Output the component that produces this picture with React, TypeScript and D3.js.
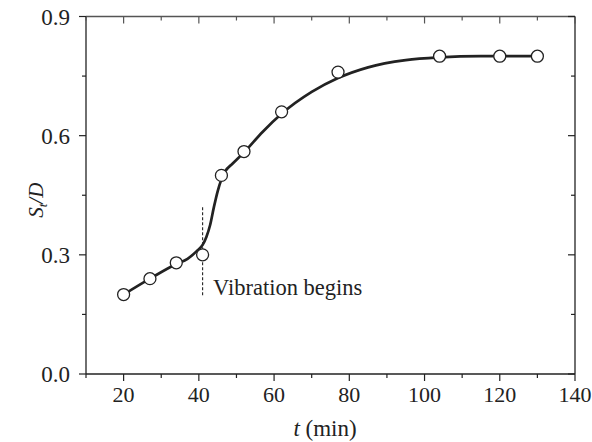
import React from "react";
import * as d3 from "d3";

const tData = [20, 27, 34, 41, 46, 52, 62, 77, 104, 120, 130];
const sData = [0.2, 0.24, 0.28, 0.3, 0.5, 0.56, 0.66, 0.76, 0.8, 0.8, 0.8];

const fitT = [20, 27, 34, 37, 39.5, 41, 42, 43, 44, 45, 46, 47, 49, 52, 57, 62, 70, 77, 85, 95, 104, 115, 130];
const fitS = [0.2, 0.24, 0.277, 0.29, 0.31, 0.325, 0.345, 0.375, 0.42, 0.46, 0.49, 0.51, 0.53, 0.558, 0.61, 0.655, 0.71, 0.745, 0.772, 0.79, 0.797, 0.8, 0.8];

const xMajor = [20, 40, 60, 80, 100, 120, 140];
const xMinor = [10, 30, 50, 70, 90, 110, 130];
const yMajor = [0, 0.3, 0.6, 0.9];
const yMinor = [0.15, 0.45, 0.75];

const vibT = 41;
const vibRange = [0.195, 0.42];

const W = 592, H = 442;
const L = 86, R = 575, T = 16.5, B = 374;

export default function App() {
  const x = d3.scaleLinear().domain([10, 140]).range([L, R]);
  const y = d3.scaleLinear().domain([0, 0.9]).range([B, T]);
  const line = d3
    .line<number>()
    .x((_, i) => x(fitT[i]))
    .y((d) => y(d))
    .curve(d3.curveMonotoneX);
  const ink = "#222";
  const font = "'Liberation Serif', 'Times New Roman', serif";
  return (
    <svg width={W} height={H} style={{ position: "absolute", left: 0, top: 0 }} fontFamily={font}>
      <rect x={0} y={0} width={W} height={H} fill="#fff" />
      {/* frame */}
      <line x1={L} x2={R} y1={T} y2={T} stroke="#555" strokeWidth={1.3} />
      <line x1={R} x2={R} y1={T} y2={B} stroke={ink} strokeWidth={1.3} />
      <line x1={L} x2={R} y1={B} y2={B} stroke={ink} strokeWidth={1.3} />
      <line x1={L} x2={L} y1={T} y2={B} stroke={ink} strokeWidth={1.3} />
      {xMajor.map((v) => (
        <g key={"xm" + v}>
          <line x1={x(v)} x2={x(v)} y1={B} y2={B + 7} stroke={ink} strokeWidth={1.2} />
          <line x1={x(v)} x2={x(v)} y1={T} y2={T + 7} stroke="#555" strokeWidth={1.2} />
          <text x={x(v)} y={B + 28} textAnchor="middle" fontSize={22} fill={ink}>
            {v}
          </text>
        </g>
      ))}
      {xMinor.map((v) => (
        <g key={"xn" + v}>
          <line x1={x(v)} x2={x(v)} y1={B} y2={B + 4} stroke={ink} strokeWidth={1.2} />
          <line x1={x(v)} x2={x(v)} y1={T} y2={T + 4} stroke="#555" strokeWidth={1.2} />
        </g>
      ))}
      {yMajor.map((v) => (
        <g key={"ym" + v}>
          <line x1={L - 7} x2={L} y1={y(v)} y2={y(v)} stroke={ink} strokeWidth={1.2} />
          <line x1={R - 7} x2={R} y1={y(v)} y2={y(v)} stroke={ink} strokeWidth={1.2} />
          <text x={L - 16} y={y(v)} dy="0.35em" textAnchor="end" fontSize={23} fill={ink}>
            {v.toFixed(1)}
          </text>
        </g>
      ))}
      {yMinor.map((v) => (
        <g key={"yn" + v}>
          <line x1={L - 4} x2={L} y1={y(v)} y2={y(v)} stroke={ink} strokeWidth={1.2} />
          <line x1={R - 4} x2={R} y1={y(v)} y2={y(v)} stroke={ink} strokeWidth={1.2} />
        </g>
      ))}
      {/* axis titles */}
      <text x={325} y={436} textAnchor="middle" fontSize={23} fill={ink}>
        <tspan fontStyle="italic">t</tspan> (min)
      </text>
      <text transform={`translate(43,${(T + B) / 2 + 5}) rotate(-90)`} textAnchor="middle" fontSize={21} fill={ink}>
        <tspan fontStyle="italic">S</tspan>
        <tspan fontStyle="italic" fontSize={13} dy={4}>t</tspan>
        <tspan fontStyle="italic" dy={-4}>/D</tspan>
      </text>
      {/* vibration marker */}
      <line
        x1={x(vibT)}
        x2={x(vibT)}
        y1={y(vibRange[1])}
        y2={y(vibRange[0])}
        stroke={ink}
        strokeWidth={1.1}
        strokeDasharray="3,2"
      />
      <text x={213} y={295} fontSize={22.5} fill={ink}>
        Vibration begins
      </text>
      {/* curve */}
      <path d={line(fitS) || ""} fill="none" stroke={ink} strokeWidth={2.7} />
      {tData.map((t, i) => (
        <circle key={"p" + i} cx={x(t)} cy={y(sData[i])} r={6} fill="#fff" stroke={ink} strokeWidth={1.3} />
      ))}
    </svg>
  );
}
